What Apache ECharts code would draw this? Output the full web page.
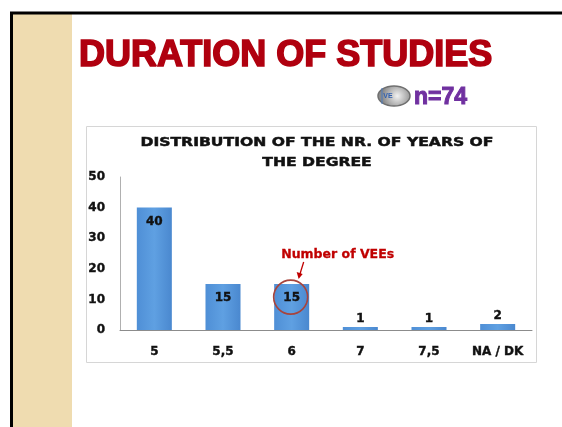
<!DOCTYPE html>
<html>
<head>
<meta charset="utf-8">
<script src="https://cdn.jsdelivr.net/npm/echarts@6/dist/echarts.min.js"></script>
<style>
html,body{margin:0;padding:0;background:#fff;}
#c{width:562px;height:427px;}
</style>
</head>
<body>
<div id="c"></div>
<script>
var categories = ['5', '5,5', '6', '7', '7,5', 'NA / DK'];
var vees = [40, 15, 15, 1, 1, 2];
var yTicks = [0, 10, 20, 30, 40, 50];
var slideTitle = 'DURATION OF STUDIES';
var chartTitle = 'DISTRIBUTION OF THE NR. OF YEARS OF\nTHE DEGREE';
var sampleText = 'n=74';
var noteText = 'Number of VEEs';

var chart = echarts.init(document.getElementById('c'));
var F = 'Liberation Sans, Arial, sans-serif';
var D = 'DejaVu Sans, sans-serif';

var barData = vees.map(function (v) {
  return {
    value: v,
    label: v >= 5 ? { position: 'insideTop', distance: 8 } : { position: 'top', distance: 2 }
  };
});

var option = {
  backgroundColor: '#ffffff',
  animation: false,
  grid: { left: 120, right: 30, top: 177, bottom: 97 },
  xAxis: {
    type: 'category',
    data: categories,
    axisLine: { lineStyle: { color: '#8c8c8c', width: 1 } },
    axisTick: { show: false },
    axisLabel: { margin: 16, fontFamily: D, fontWeight: 'bold', fontSize: 12, color: '#111', textBorderColor: '#111', textBorderWidth: 0.4 }
  },
  yAxis: {
    type: 'value',
    min: yTicks[0],
    max: yTicks[yTicks.length - 1],
    interval: 10,
    axisLine: { show: true, lineStyle: { color: '#b0b0b0', width: 1 } },
    axisTick: { show: false },
    splitLine: { show: false },
    axisLabel: { margin: 15, fontFamily: D, fontWeight: 'bold', fontSize: 12, color: '#111', textBorderColor: '#111', textBorderWidth: 0.4 }
  },
  series: [{
    type: 'bar',
    data: barData,
    barWidth: '51%',
    itemStyle: {
      color: new echarts.graphic.LinearGradient(0, 0, 1, 0, [
        { offset: 0, color: '#4f8fd6' },
        { offset: 0.5, color: '#5fa0e2' },
        { offset: 1, color: '#4a88cf' }
      ])
    },
    label: {
      show: true,
      fontFamily: D,
      fontWeight: 'bold',
      fontSize: 12,
      color: '#111',
      textBorderColor: '#111',
      textBorderWidth: 0.4
    }
  }]
};
chart.setOption(option);

// annotation positioned from the chart's own scale
var p = chart.convertToPixel({ seriesIndex: 0 }, [2, vees[2]]);
var cx = p[0] - 1, cy = p[1] + 13;

chart.setOption({
  graphic: [
    { type: 'rect', z: -10, shape: { x: 13, y: 14, width: 59, height: 420 }, style: { fill: '#efdcb0' } },
    { type: 'rect', z: 10, shape: { x: 11.5, y: 13, width: 600, height: 500 }, style: { fill: null, stroke: '#000', lineWidth: 3 } },
    { type: 'rect', z: -5, shape: { x: 86.5, y: 126.5, width: 450, height: 236 }, style: { fill: '#fff', stroke: '#d6d6d6', lineWidth: 1 } },
    { type: 'text', x: 317, y: 133, scaleX: 1.2, style: { text: chartTitle, fill: '#111', font: 'bold 13px ' + D, textAlign: 'center', lineHeight: 20, stroke: '#111', lineWidth: 0.5 } },
    { type: 'text', x: 79, y: 56, style: { text: slideTitle, fill: '#b0000f', font: 'bold 36px ' + F, textVerticalAlign: 'middle', stroke: '#b0000f', lineWidth: 1.6 } },
    { type: 'ellipse', shape: { cx: 394, cy: 96, rx: 16, ry: 10 }, style: {
        fill: new echarts.graphic.RadialGradient(0.6, 0.5, 0.7, [{ offset: 0, color: '#f2f2f2' }, { offset: 1, color: '#8a8a8a' }]),
        stroke: '#6f6f6f', lineWidth: 1.5 } },
    { type: 'text', x: 388, y: 96, style: { text: 'VE', fill: '#3060b0', font: 'bold 7px ' + F, textAlign: 'center', textVerticalAlign: 'middle' } },
    { type: 'line', shape: { x1: 382, y1: 88, x2: 382, y2: 104 }, style: { stroke: '#4d7cc0', lineWidth: 1 } },
    { type: 'text', x: 414, y: 98, style: { text: sampleText, fill: '#7030a0', font: 'bold 23px ' + F, textVerticalAlign: 'middle', stroke: '#7030a0', lineWidth: 1 } },
    { type: 'text', x: cx + 47, y: 255, style: { text: noteText, fill: '#c00000', font: 'bold 12.5px ' + D, textAlign: 'center', textVerticalAlign: 'middle', stroke: '#c00000', lineWidth: 0.3 } },
    { type: 'line', shape: { x1: cx + 13, y1: 262, x2: cx + 9, y2: 275 }, style: { stroke: '#c00000', lineWidth: 1.3 } },
    { type: 'polygon', shape: { points: [[cx + 6, 272], [cx + 12, 274], [cx + 8, 279]] }, style: { fill: '#c00000' } },
    { type: 'circle', z: 20, shape: { cx: cx, cy: cy, r: 17 }, style: { fill: null, stroke: '#a8443c', lineWidth: 1.6 } }
  ]
});
</script>
</body>
</html>
